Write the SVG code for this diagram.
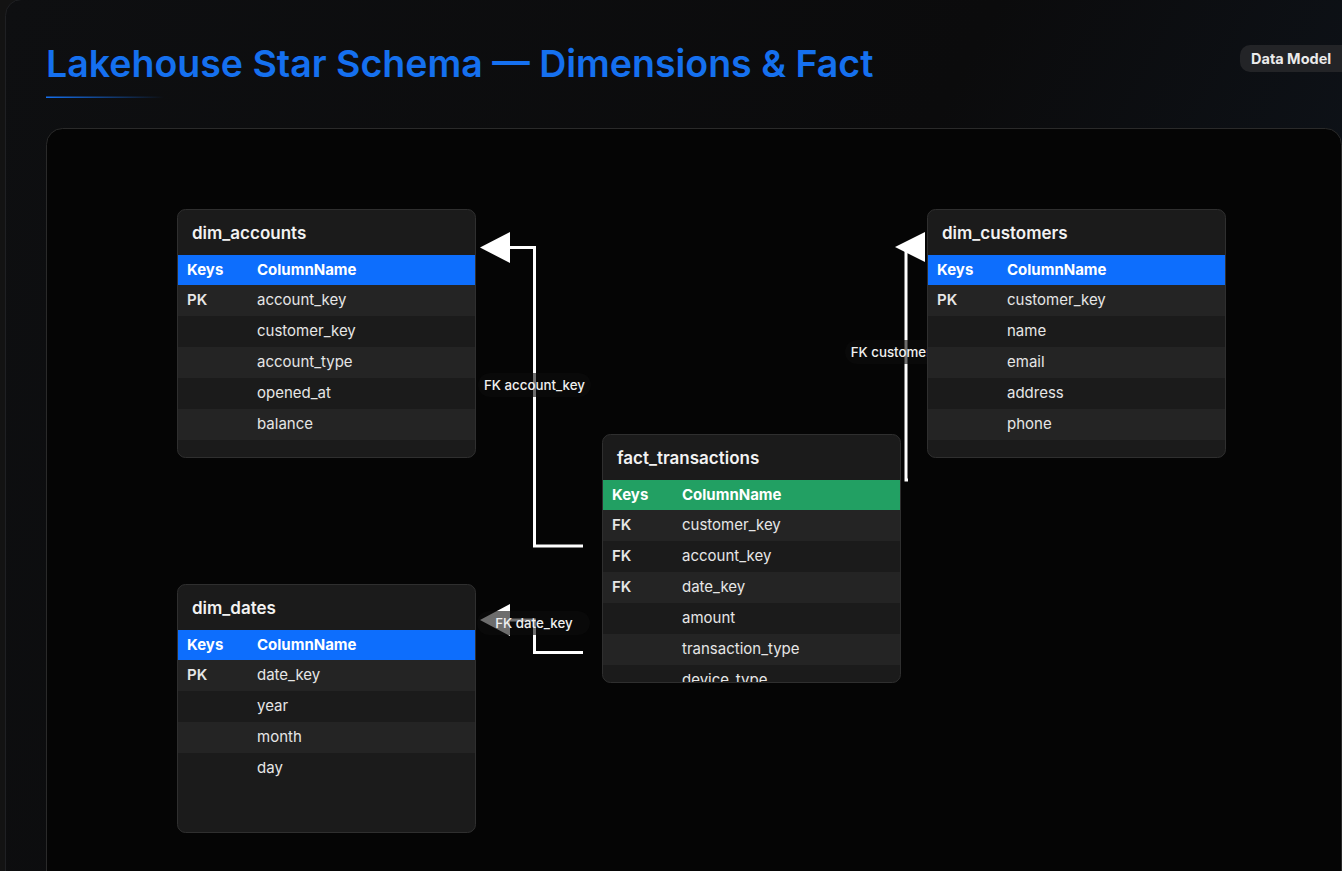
<svg xmlns="http://www.w3.org/2000/svg" width="1342" height="871" viewBox="0 0 1342 871">
<defs>
<linearGradient id="cardBg" x1="0" y1="0" x2="1" y2="0.35">
<stop offset="0" stop-color="#0e0f11"/>
<stop offset="0.65" stop-color="#0b0b0c"/>
<stop offset="1" stop-color="#0e131a"/>
</linearGradient>
<linearGradient id="rule" x1="0" x2="1" y1="0" y2="0">
<stop offset="0" stop-color="#1570ef"/>
<stop offset="1" stop-color="#1570ef" stop-opacity="0"/>
</linearGradient>
<clipPath id="tclip"><rect x="0.5" y="0.5" width="298" height="248" rx="8"/></clipPath>
<style>
.ttl{font-family:Inter,"Liberation Sans",sans-serif;font-weight:600;font-size:17px;fill:#f2f2f2}
.hdr{font-family:Inter,"Liberation Sans",sans-serif;font-weight:700;font-size:15px;fill:#ffffff}
.key{font-family:Inter,"Liberation Sans",sans-serif;font-weight:600;font-size:15px;fill:#e6e6e6}
.col{font-family:Inter,"Liberation Sans",sans-serif;font-weight:400;font-size:15px;fill:#e6e6e6}
.lbl{font-family:Inter,"Liberation Sans",sans-serif;font-weight:500;font-size:13.3px;fill:#f0f0f0}
.tbg{fill:#1b1b1b}
.rl{fill:#242424}
.frame{fill:none;stroke:#2f2f2f;stroke-width:1}
.hb{fill:#0d6efd}
.hg{fill:#22a063}
.edge{fill:none;stroke:#ffffff;stroke-width:3}
.ah{fill:#ffffff}
.pill{fill:#0c0c0c;fill-opacity:0.6}
</style>
</defs>

<rect x="0" y="0" width="1342" height="871" fill="#131313"/>
<rect x="5.5" y="-0.5" width="1360" height="900" rx="16" fill="url(#cardBg)" stroke="#1f2023"/>

<text x="46" y="77" font-family="Inter,'Liberation Sans',sans-serif" font-weight="600" font-size="37.5" fill="#1570ef">Lakehouse Star Schema — Dimensions &amp; Fact</text>
<rect x="46" y="96.5" width="118" height="1.5" fill="url(#rule)"/>

<g id="badge">
<rect x="1240" y="45" width="115" height="27" rx="10" fill="#232427"/>
<text x="1251" y="63.5" font-family="Inter,'Liberation Sans',sans-serif" font-weight="700" font-size="14.5" fill="#ebebeb">Data Model</text>
</g>

<rect x="46.5" y="128.5" width="1295" height="800" rx="16" fill="#050505" stroke="#2a2a2a"/>

<g id="connectors">
<g id="edge-account">
<polyline class="edge" points="583,546 534.5,546 534.5,247.5 508,247.5"/>
<polygon class="ah" points="480,247.5 510,232 510,263"/>
<rect class="pill" x="478" y="373" width="113" height="24" rx="12"/>
<text class="lbl" x="534.5" y="389.5" text-anchor="middle">FK account_key</text>
</g>
<g id="edge-customer">
<polyline class="edge" points="908,480 906,480 906,247"/>
<polygon class="ah" points="895,247 925,232 925,262"/>
<rect class="pill" x="845" y="340" width="121" height="24" rx="12"/>
<text class="lbl" x="905.5" y="356.5" text-anchor="middle">FK customer_key</text>
</g>
<g id="edge-date">
<polyline class="edge" points="583,652.5 534.5,652.5 534.5,620 508,620"/>
<polygon class="ah" points="480,620 510,604 510,636"/>
<rect class="pill" x="477" y="611" width="113" height="24" rx="12"/>
<text class="lbl" x="534" y="628" text-anchor="middle">FK date_key</text>
</g>
</g>

<g id="dim_accounts" transform="translate(177,209)">
<g clip-path="url(#tclip)">
<rect class="tbg" x="0" y="0" width="299" height="249"/>
<rect class="hb" x="0" y="46" width="299" height="30"/>
<rect class="rl" x="0" y="76" width="299" height="31"/>
<rect class="rl" x="0" y="138" width="299" height="31"/>
<rect class="rl" x="0" y="200" width="299" height="31"/>
</g>
<rect class="frame" x="0.5" y="0.5" width="298" height="248" rx="8"/>
<text class="ttl" x="15" y="30">dim_accounts</text>
<text class="hdr" x="10" y="66">Keys</text><text class="hdr" x="80" y="66">ColumnName</text>
<text class="key" x="10" y="96">PK</text><text class="col" x="80" y="96">account_key</text>
<text class="col" x="80" y="127">customer_key</text>
<text class="col" x="80" y="158">account_type</text>
<text class="col" x="80" y="189">opened_at</text>
<text class="col" x="80" y="220">balance</text>
</g>

<g id="dim_customers" transform="translate(927,209)">
<g clip-path="url(#tclip)">
<rect class="tbg" x="0" y="0" width="299" height="249"/>
<rect class="hb" x="0" y="46" width="299" height="30"/>
<rect class="rl" x="0" y="76" width="299" height="31"/>
<rect class="rl" x="0" y="138" width="299" height="31"/>
<rect class="rl" x="0" y="200" width="299" height="31"/>
</g>
<rect class="frame" x="0.5" y="0.5" width="298" height="248" rx="8"/>
<text class="ttl" x="15" y="30">dim_customers</text>
<text class="hdr" x="10" y="66">Keys</text><text class="hdr" x="80" y="66">ColumnName</text>
<text class="key" x="10" y="96">PK</text><text class="col" x="80" y="96">customer_key</text>
<text class="col" x="80" y="127">name</text>
<text class="col" x="80" y="158">email</text>
<text class="col" x="80" y="189">address</text>
<text class="col" x="80" y="220">phone</text>
</g>

<g id="fact_transactions" transform="translate(602,434)">
<g clip-path="url(#tclip)">
<rect class="tbg" x="0" y="0" width="299" height="249"/>
<rect class="hg" x="0" y="46" width="299" height="30"/>
<rect class="rl" x="0" y="76" width="299" height="31"/>
<rect class="rl" x="0" y="138" width="299" height="31"/>
<rect class="rl" x="0" y="200" width="299" height="31"/>
<text class="col" x="80" y="251">device_type</text>
</g>
<rect class="frame" x="0.5" y="0.5" width="298" height="248" rx="8"/>
<text class="ttl" x="15" y="30">fact_transactions</text>
<text class="hdr" x="10" y="66">Keys</text><text class="hdr" x="80" y="66">ColumnName</text>
<text class="key" x="10" y="96">FK</text><text class="col" x="80" y="96">customer_key</text>
<text class="key" x="10" y="127">FK</text><text class="col" x="80" y="127">account_key</text>
<text class="key" x="10" y="158">FK</text><text class="col" x="80" y="158">date_key</text>
<text class="col" x="80" y="189">amount</text>
<text class="col" x="80" y="220">transaction_type</text>
</g>

<g id="dim_dates" transform="translate(177,584)">
<g clip-path="url(#tclip)">
<rect class="tbg" x="0" y="0" width="299" height="249"/>
<rect class="hb" x="0" y="46" width="299" height="30"/>
<rect class="rl" x="0" y="76" width="299" height="31"/>
<rect class="rl" x="0" y="138" width="299" height="31"/>
</g>
<rect class="frame" x="0.5" y="0.5" width="298" height="248" rx="8"/>
<text class="ttl" x="15" y="30">dim_dates</text>
<text class="hdr" x="10" y="66">Keys</text><text class="hdr" x="80" y="66">ColumnName</text>
<text class="key" x="10" y="96">PK</text><text class="col" x="80" y="96">date_key</text>
<text class="col" x="80" y="127">year</text>
<text class="col" x="80" y="158">month</text>
<text class="col" x="80" y="189">day</text>
</g>
</svg>
